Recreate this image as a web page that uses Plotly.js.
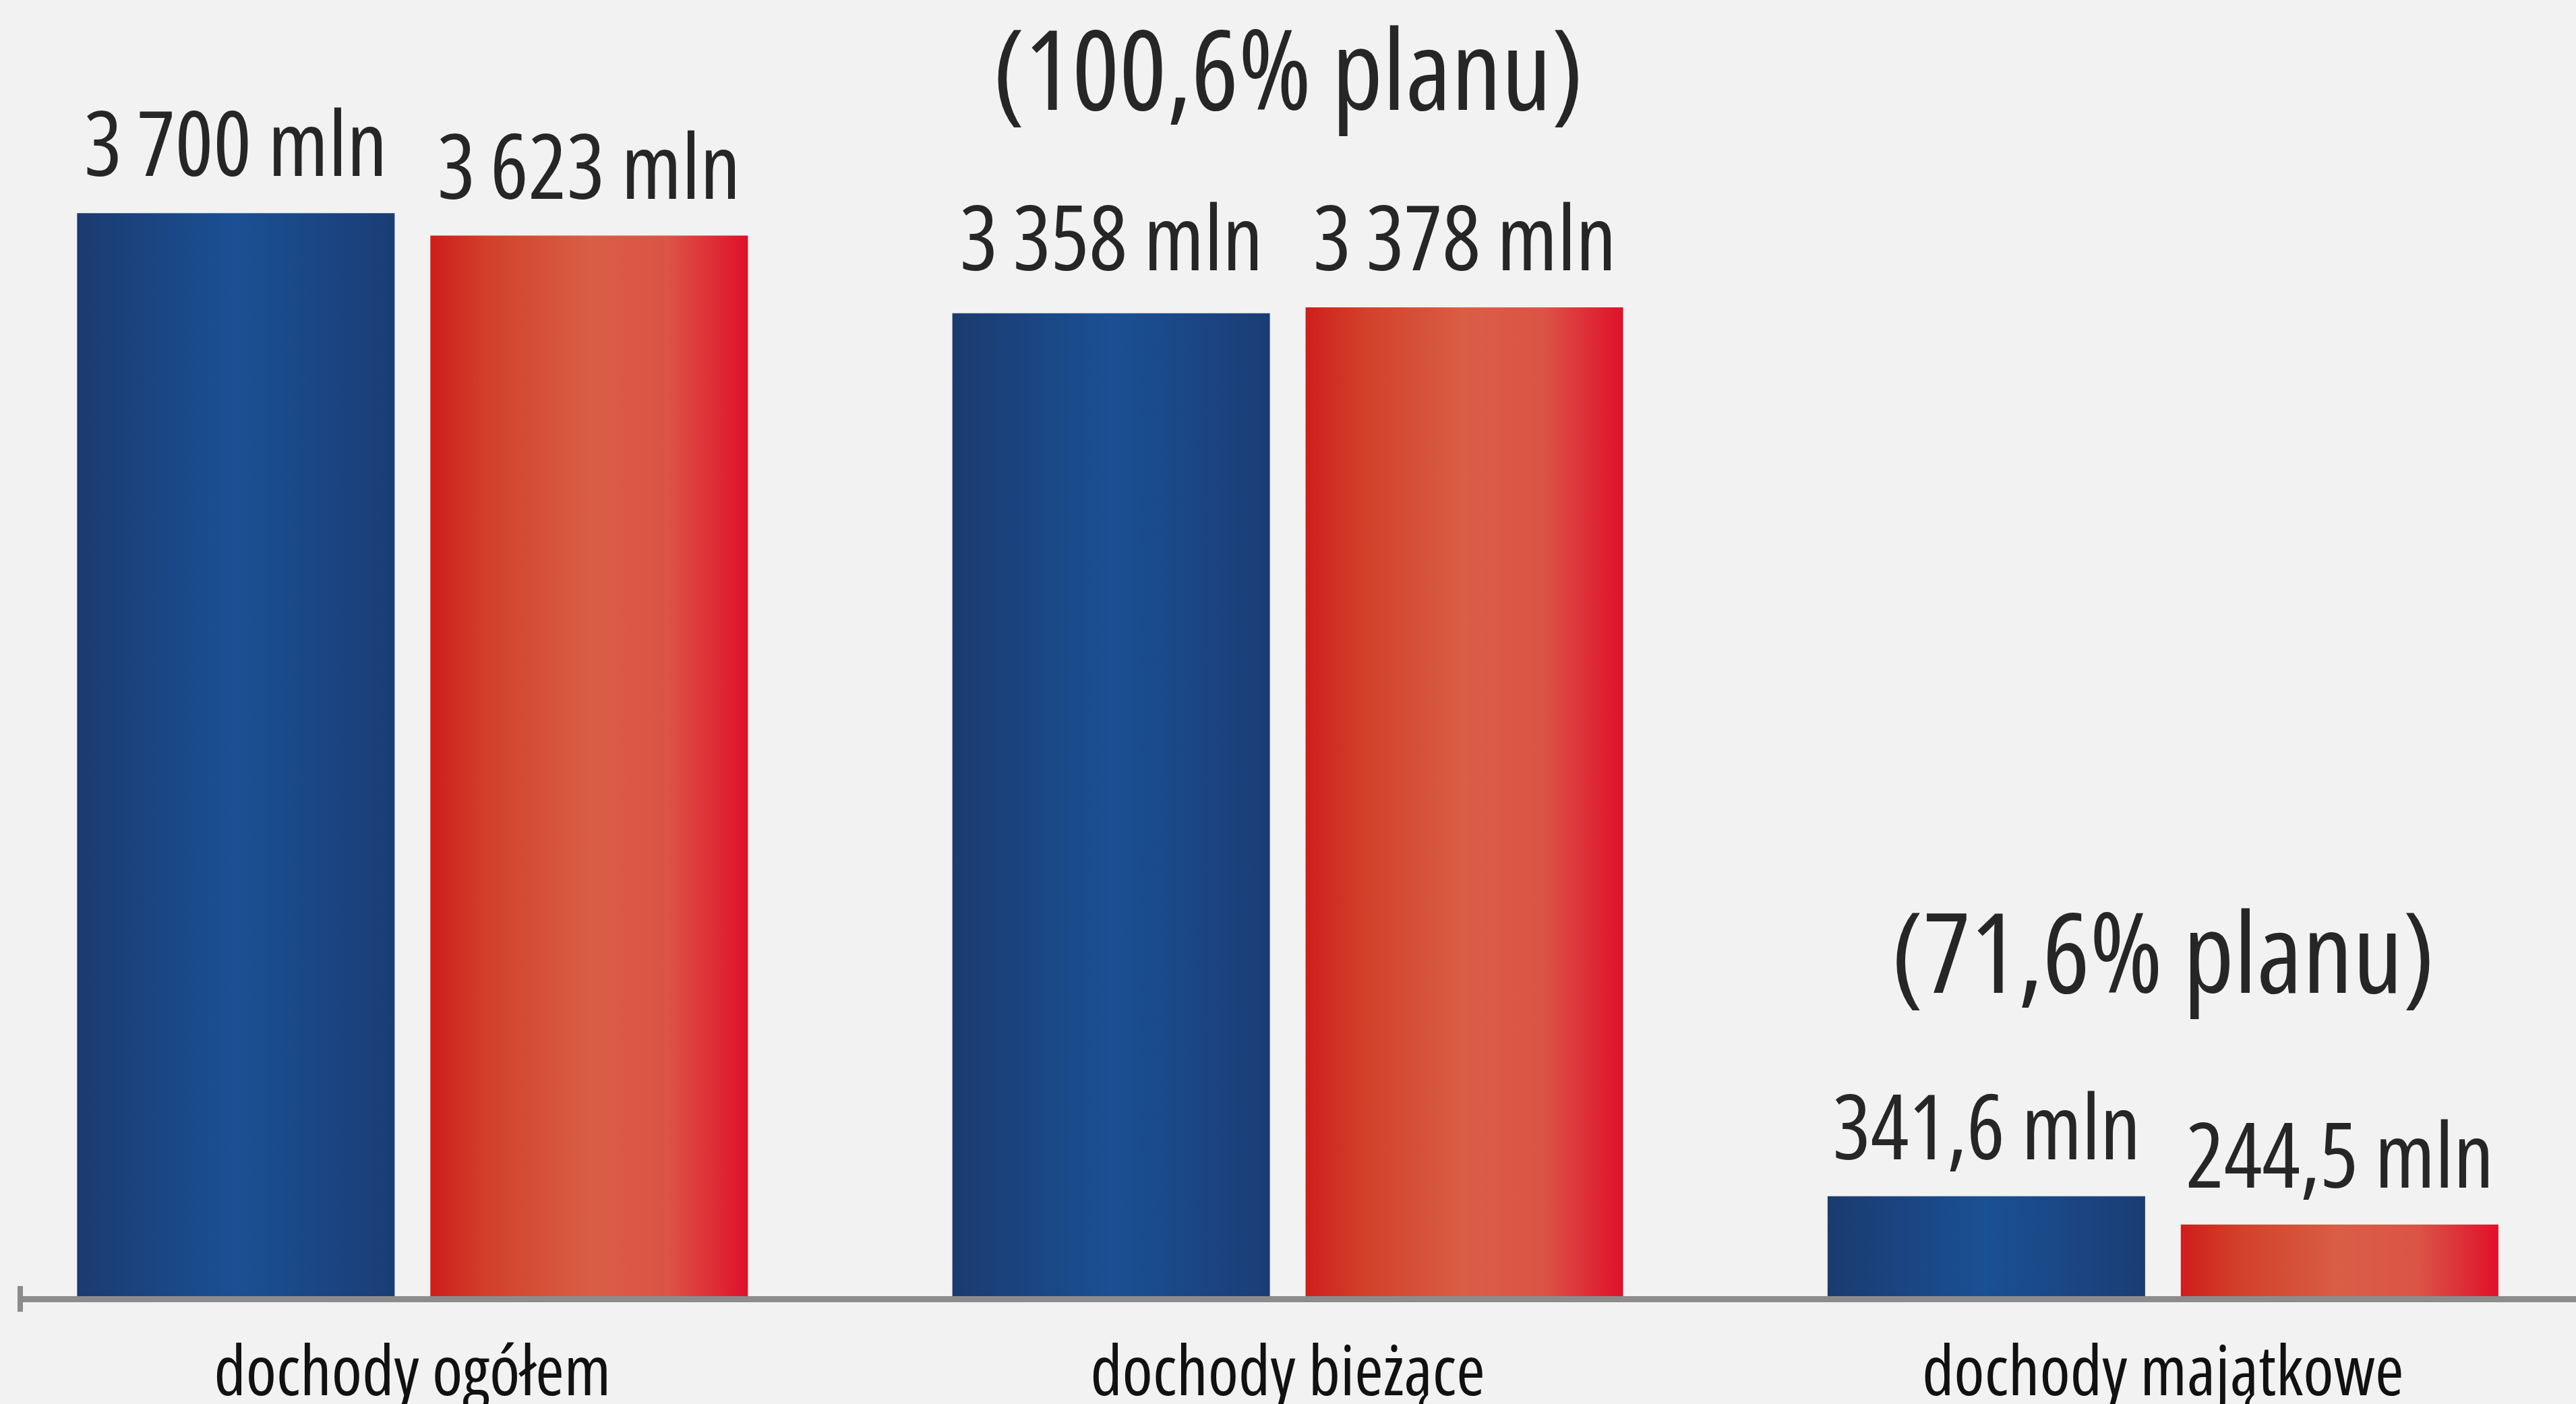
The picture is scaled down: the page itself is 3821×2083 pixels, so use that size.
<!DOCTYPE html>
<html>
<head>
<meta charset="utf-8">
<script src="https://cdn.plot.ly/plotly-3.0.1.min.js"></script>
<style>
  html, body { margin: 0; padding: 0; background: #f2f2f2; }
  #chart { width: 3821px; height: 2083px; }
  #chart svg text { font-stretch: condensed; }
</style>
</head>
<body>
<div id="chart"></div>
<script>
// ---- data ----
const categories = ['dochody ogółem', 'dochody bieżące', 'dochody majątkowe'];
const planValues = [3700, 3358, 341.6];
const wykonanieValues = [3623, 3378, 244.5];
const planLabels = ['3\u2009700 mln', '3\u2009358 mln', '341,6 mln'];
const wykonanieLabels = ['3\u2009623 mln', '3\u2009378 mln', '244,5 mln'];
const percentLabels = ['', '(100,6% planu)', '(71,6% planu)'];

// ---- layout constants ----
const W = 3821, H = 2083;
const marginL = 30, marginR = 0, marginT = 0, marginB = 160;
const xRange = [-0.4482, 2.4719];
const yRange = [0, 4428];
const bargap = 0.1928, bargroupgap = 0.101;
const FONT = "'Open Sans', 'Roboto Condensed', sans-serif";

const plotW = W - marginL - marginR;
const pxPerCat = plotW / (xRange[1] - xRange[0]);
const barShift = (1 - bargap) / 4 * pxPerCat;

const traces = [
  { type: 'bar', name: 'Plan', x: categories, y: planValues,
    marker: { color: '#1a4a8a', line: { width: 0 } }, hoverinfo: 'skip' },
  { type: 'bar', name: 'Wykonanie', x: categories, y: wykonanieValues,
    marker: { color: '#d8503c', line: { width: 0 } }, hoverinfo: 'skip' }
];

const valueFont = { family: FONT, size: 133, color: '#262626', weight: 500 };
const annotations = [];
categories.forEach((c, i) => {
  // labels of nearly equal bars share one baseline
  const close = Math.abs(planValues[i] - wykonanieValues[i]) / Math.max(planValues[i], wykonanieValues[i]) < 0.01;
  const top = Math.max(planValues[i], wykonanieValues[i]);
  annotations.push({ x: c, y: close ? top : planValues[i], xref: 'x', yref: 'y', text: planLabels[i],
    showarrow: false, xanchor: 'center', yanchor: 'bottom', xshift: -barShift, yshift: 14,
    font: valueFont });
  annotations.push({ x: c, y: close ? top : wykonanieValues[i], xref: 'x', yref: 'y', text: wykonanieLabels[i],
    showarrow: false, xanchor: 'center', yanchor: 'bottom', xshift: barShift, yshift: 14,
    font: valueFont });
  if (percentLabels[i]) {
    annotations.push({ x: c, y: planValues[i], xref: 'x', yref: 'y', text: percentLabels[i],
      showarrow: false, xanchor: 'center', yanchor: 'bottom', yshift: 252,
      font: { family: FONT, size: 165, color: '#262626', weight: 500 } });
  }
});

const layout = {
  width: W, height: H,
  paper_bgcolor: '#f2f2f2', plot_bgcolor: '#f2f2f2',
  margin: { l: marginL, r: marginR, t: marginT, b: marginB, pad: 0 },
  showlegend: false,
  barmode: 'group', bargap: bargap, bargroupgap: bargroupgap,
  xaxis: {
    type: 'category', range: xRange, fixedrange: true,
    showline: true, linecolor: '#8c8c8c', linewidth: 9,
    showgrid: false, zeroline: false, ticks: '',
    ticklabelstandoff: 14,
    tickfont: { family: FONT, size: 103, color: '#111111' }
  },
  yaxis: {
    range: yRange, fixedrange: true, visible: false,
    showgrid: false, zeroline: false
  },
  annotations: annotations,
  shapes: [{
    type: 'line', xref: 'paper', yref: 'paper', x0: 0, x1: 0, y0: -0.012, y1: 0.0078,
    line: { color: '#8c8c8c', width: 8 }, layer: 'above'
  }]
};

Plotly.newPlot('chart', traces, layout, { staticPlot: true, displayModeBar: false }).then(gd => {
  const svgNS = 'http://www.w3.org/2000/svg';
  const svg = gd.querySelector('svg.main-svg');
  let defs = svg.querySelector('defs');
  if (!defs) { defs = document.createElementNS(svgNS, 'defs'); svg.insertBefore(defs, svg.firstChild); }
  function grad(id, stops) {
    const g = document.createElementNS(svgNS, 'linearGradient');
    g.setAttribute('id', id);
    g.setAttribute('x1', '0'); g.setAttribute('x2', '1');
    g.setAttribute('y1', '0'); g.setAttribute('y2', '0');
    stops.forEach(([o, c]) => {
      const s = document.createElementNS(svgNS, 'stop');
      s.setAttribute('offset', o); s.setAttribute('stop-color', c);
      g.appendChild(s);
    });
    defs.appendChild(g);
  }
  grad('gBlue', [[0, '#1b3b70'], [0.5, '#1a5094'], [1, '#1b3d75']]);
  grad('gRed', [[0, '#cf1e1b'], [0.18, '#d2402a'], [0.5, '#d95e45'], [0.75, '#db5446'], [1, '#e0102b']]);
  const ids = ['gBlue', 'gRed'];
  gd.querySelectorAll('.barlayer .trace').forEach((t, i) => {
    t.querySelectorAll('path').forEach(p => { p.style.fill = 'url(#' + ids[i] + ')'; });
  });
});
</script>
</body>
</html>
